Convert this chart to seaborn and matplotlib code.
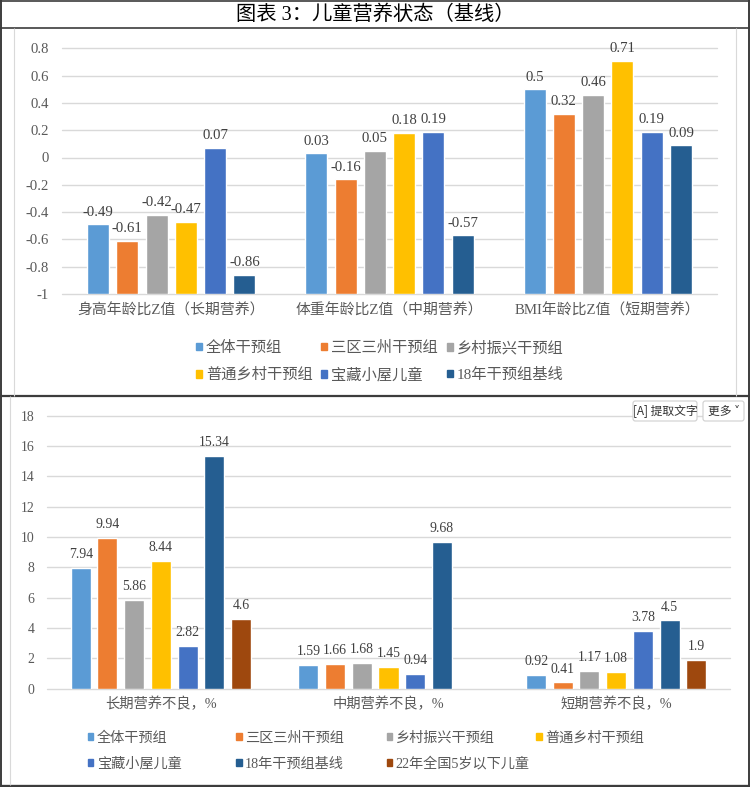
import numpy as np
import pandas as pd
import matplotlib
matplotlib.use("Agg")
import matplotlib.pyplot as plt
import seaborn as sns
from matplotlib.patches import Patch, FancyBboxPatch
from matplotlib.lines import Line2D

# -----------------------------------------------------------------------------
# Datos
# -----------------------------------------------------------------------------
title = "图表 3：儿童营养状态（基线）"

groups = ["全体干预组", "三区三州干预组", "乡村振兴干预组", "普通乡村干预组",
          "宝藏小屋儿童", "18年干预组基线", "22年全国5岁以下儿童"]
colors = ["#5B9BD5", "#ED7D31", "#A5A5A5", "#FFC000",
          "#4472C4", "#255E91", "#9E480E"]

# Panel superior: puntuaciones Z
z_cats = ["身高年龄比Z值（长期营养）", "体重年龄比Z值（中期营养）", "BMI年龄比Z值（短期营养）"]
z_all = [-0.49, 0.03, 0.5]
z_sqsz = [-0.61, -0.16, 0.32]
z_xczx = [-0.42, 0.05, 0.46]
z_ptxc = [-0.47, 0.18, 0.71]
z_bzxw = [0.07, 0.19, 0.19]
z_base18 = [-0.86, -0.57, 0.09]

# Panel inferior: prevalencia de malnutrición (%)
m_cats = ["长期营养不良，%", "中期营养不良，%", "短期营养不良，%"]
m_all = [7.94, 1.59, 0.92]
m_sqsz = [9.94, 1.66, 0.41]
m_xczx = [5.86, 1.68, 1.17]
m_ptxc = [8.44, 1.45, 1.08]
m_bzxw = [2.82, 0.94, 3.78]
m_base18 = [15.34, 9.68, 4.5]
m_nat22 = [4.6, np.nan, 1.9]

W, H = 750, 787
FAMILY = ["Liberation Serif", "Noto Sans CJK SC", "DejaVu Sans"]
GRAY = "#595959"


def long_table(cats, series, names):
    rows = []
    for name, vals in zip(names, series):
        for c, v in zip(cats, vals):
            if not np.isnan(v):
                rows.append({"cat": c, "group": name, "value": v})
    return pd.DataFrame(rows)


def px_axes(fig, x0, y0, x1, y1):
    return fig.add_axes([x0 / W, 1 - y1 / H, (x1 - x0) / W, (y1 - y0) / H])


def draw_panel(ax, df, cats, names, base, ymax, step, width,
               fs_tick, fs_val, fs_cat, tick_pad, cat_pad, val_pad):
    df = df.assign(h=df["value"] - base)
    sns.barplot(data=df, x="cat", y="h", hue="group", order=cats,
                hue_order=names, palette=colors[:len(names)], saturation=1,
                width=width, gap=0.25, errorbar=None, bottom=base,
                legend=False, ax=ax)
    for cont in ax.containers:
        labels = [f"{round(b.get_y() + b.get_height(), 2):g}" for b in cont]
        ax.bar_label(cont, labels=labels, padding=val_pad, fontsize=fs_val,
                     color="#404040", clip_on=False)
    ax.set_xlim(-0.5, len(cats) - 0.5)
    ax.set_ylim(base, ymax)
    ticks = np.round(np.arange(base, ymax + step / 2, step), 1) + 0.0
    ax.set_yticks(ticks)
    ax.set_yticklabels([f"{t:g}" if abs(t) > 1e-9 else "0" for t in ticks])
    ax.set_xlabel("")
    ax.set_ylabel("")
    ax.tick_params(axis="y", length=0, pad=tick_pad, labelsize=fs_tick,
                   labelcolor=GRAY)
    ax.tick_params(axis="x", length=0, pad=cat_pad, labelsize=fs_cat,
                   labelcolor=GRAY)
    ax.grid(axis="y", color="#D9D9D9", lw=1.0)
    ax.grid(axis="x", visible=False)
    for gl in ax.get_ygridlines():
        gl.set_clip_on(False)
    ax.set_axisbelow(True)
    for s in ax.spines.values():
        s.set_visible(False)
    ax.patch.set_alpha(0)


def grid_legend(fig, names, rows, xs, ys, fs, mk):
    for r, y in zip(rows, ys):
        for i, x in zip(r, xs):
            fig.legend([Patch(color=colors[i])], [names[i]], loc="center left",
                       bbox_to_anchor=(x / W, 1 - y / H), frameon=False,
                       fontsize=fs, handlelength=mk, handleheight=mk,
                       handletextpad=0.25, borderpad=0, borderaxespad=0,
                       labelcolor=GRAY)


def hline(fig, y, x0, x1, color, lw):
    fig.add_artist(Line2D([x0 / W, x1 / W], [1 - y / H, 1 - y / H],
                          color=color, lw=lw, solid_capstyle="butt"))


def vline(fig, x, y0, y1, color, lw):
    fig.add_artist(Line2D([x / W, x / W], [1 - y0 / H, 1 - y1 / H],
                          color=color, lw=lw, solid_capstyle="butt"))


if __name__ == '__main__':

    sns.set_theme(style="white")
    plt.rcParams["font.family"] = FAMILY

    fig = plt.figure(figsize=(W / 100, H / 100), dpi=100)
    fig.patch.set_facecolor("white")

    # Marcos de la captura
    dark = "#3C3C3C"
    light = "#D9D9D9"
    hline(fig, 0.8, 0, W, dark, 1.2)
    hline(fig, 28, 0, W, dark, 1.2)
    hline(fig, 396, 0, W, dark, 1.6)
    hline(fig, 785.5, 0, W, dark, 2.4)
    vline(fig, 1, 0, H, dark, 1.4)
    vline(fig, 748.8, 0, H, dark, 1.4)
    vline(fig, 14, 28, 396, light, 0.8)
    vline(fig, 736, 28, 396, light, 0.8)
    vline(fig, 10, 396, 785, light, 0.8)

    fig.text(0.5, 1 - 15 / H, title, ha="center", va="center",
             fontsize=14.6, color="black", family=FAMILY)

    # Panel superior
    ax1 = px_axes(fig, 62, 48.3, 717, 294)
    df_z = long_table(z_cats, [z_all, z_sqsz, z_xczx, z_ptxc, z_bzxw, z_base18],
                      groups[:6])
    draw_panel(ax1, df_z, z_cats, groups[:6], base=-1, ymax=0.8, step=0.2,
               width=0.805, fs_tick=10.6, fs_val=10.6, fs_cat=10.7,
               tick_pad=9.5, cat_pad=7, val_pad=4)
    grid_legend(fig, groups, [[0, 1, 2], [3, 4, 5]], [196, 321, 447],
                [348, 375], fs=11, mk=0.4)

    # Panel inferior
    ax2 = px_axes(fig, 47, 415.7, 730, 688.7)
    df_m = long_table(m_cats, [m_all, m_sqsz, m_xczx, m_ptxc, m_bzxw,
                               m_base18, m_nat22], groups)
    draw_panel(ax2, df_m, m_cats, groups, base=0, ymax=18, step=2,
               width=0.82, fs_tick=9.9, fs_val=9.9, fs_cat=10.3,
               tick_pad=9, cat_pad=6, val_pad=5)
    grid_legend(fig, groups, [[0, 1, 2, 3], [4, 5, 6]],
                [87.5, 236, 386.6, 536], [738, 764], fs=10.2, mk=0.4)

    # Botones de la captura
    for x0, x1, txt in [(633, 697, "[A] 提取文字"), (703, 744, "更多 ˅")]:
        fig.add_artist(FancyBboxPatch((x0 / W, 1 - 421 / H), (x1 - x0) / W, 20 / H,
                                      boxstyle="round,pad=0,rounding_size=0.003",
                                      transform=fig.transFigure, fc="white",
                                      ec="#CFCFCF", lw=0.8))
        fig.text((x0 + x1) / 2 / W, 1 - 411 / H, txt, ha="center", va="center",
                 fontsize=8.5, color="#333333",
                 family=["Noto Sans CJK SC", "DejaVu Sans"])

    fig.savefig("out.png", dpi=100)
